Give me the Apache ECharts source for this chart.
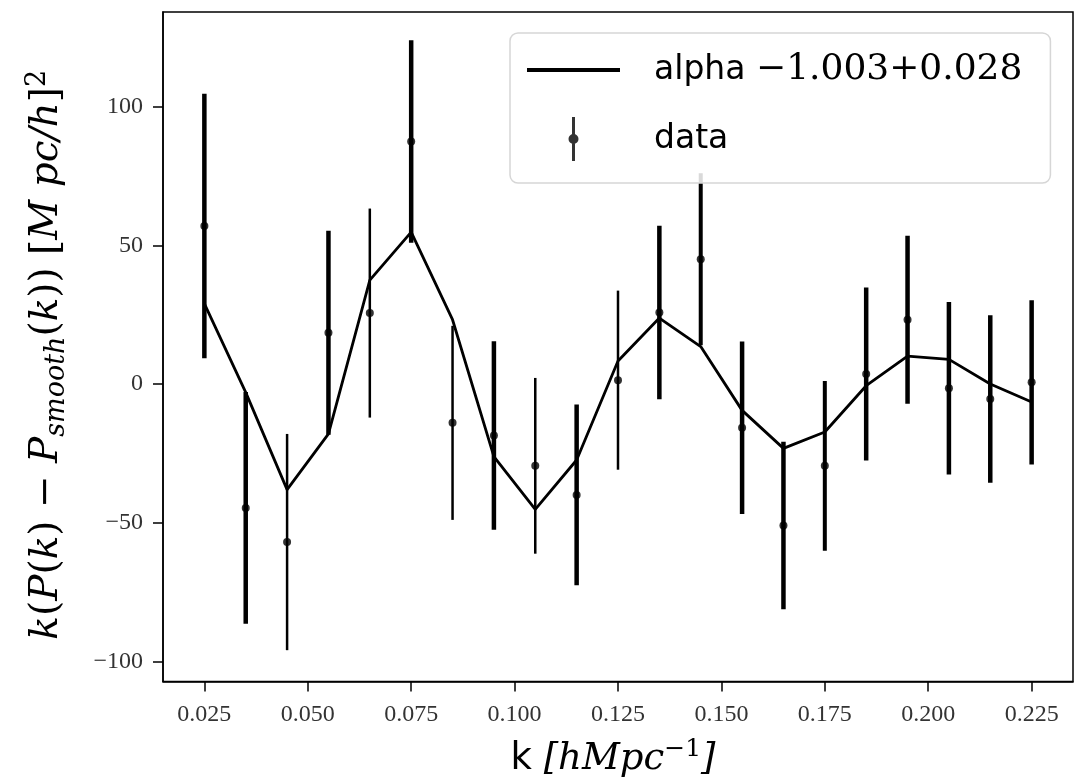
<!DOCTYPE html>
<html>
<head>
<meta charset="utf-8">
<script src="https://cdn.jsdelivr.net/npm/echarts@6/dist/echarts.min.js"></script>
<style>
  html, body { margin: 0; padding: 0; background: #fff; }
  #chart { width: 1083px; height: 783px; }
</style>
</head>
<body>
<div id="chart"></div>
<script>
// ---- data ----
const kValues = [0.025, 0.035, 0.045, 0.055, 0.065, 0.075, 0.085, 0.095, 0.105, 0.115,
                 0.125, 0.135, 0.145, 0.155, 0.165, 0.175, 0.185, 0.195, 0.205, 0.215, 0.225];
const dataValues = [57, -44.7, -57, 18.5, 25.6, 87.5, -14, -18.6, -29.5, -40,
                    1.4, 25.8, 45, -15.8, -51, -29.5, 3.6, 23.2, -1.5, -5.4, 0.6];
const dataErrors = [47.7, 41.8, 39, 36.8, 37.7, 36.5, 35, 34, 31.7, 32.6,
                    32.3, 31.3, 31, 31.1, 30.2, 30.6, 31.2, 30.3, 31.1, 30.2, 29.6];
const modelValues = [29, -3, -38.1, -18, 37.5, 54.8, 23.2, -26.2, -45.2, -27.4,
                     8.3, 23.8, 13.5, -9.5, -23.2, -17.3, -0.6, 10.1, 8.9, 0, -6.5];
const xTicks = [0.025, 0.05, 0.075, 0.1, 0.125, 0.15, 0.175, 0.2, 0.225];
const yTicks = [-100, -50, 0, 50, 100];
const modelLabel = 'alpha';
const modelLabelValue = '\u22121.003+0.028';
const dataLabel = 'data';

// ---- styling (not data) ----
const errorBarWidths = [4.5, 4.5, 2.5, 4.5, 2.5, 4.5, 2.5, 4.5, 2.5, 4.5,
                        2.5, 4.5, 4, 4.5, 4.5, 4, 4.5, 4.5, 4.5, 4.5, 4.5];
const serif = '"Liberation Serif", "DejaVu Serif", serif';
const mathSerif = '"DejaVu Serif", serif';

const chart = echarts.init(document.getElementById('chart'));

const corners = 'M0,0h0.01v0.01h-0.01z M93,44h-0.01v-0.01h0.01z ';
const lineIcon = 'path://' + corners + 'M0,20h93v4h-93z';
const dataIcon = 'path://' + corners +
                 'M45,0h3v44h-3z M41.5,22a5,5 0 1,1 10,0a5,5 0 1,1 -10,0z';

const option = {
  animation: false,
  backgroundColor: '#fff',
  grid: {
    left: 163, right: 10, top: 12, bottom: 96,
    show: true, borderColor: '#000', borderWidth: 1.5, backgroundColor: 'transparent'
  },
  xAxis: {
    type: 'value', min: 0.015, max: 0.235,
    axisLine: { show: true, onZero: false, lineStyle: { color: '#000', width: 1.5 } },
    splitLine: { show: false },
    axisTick: { show: true, length: 10, customValues: xTicks, lineStyle: { color: '#000', width: 1.5 } },
    axisLabel: {
      customValues: xTicks, margin: 21,
      formatter: v => v.toFixed(3),
      fontFamily: serif, fontSize: 24, color: '#333'
    },
    name: '{k|k }{i|[hMpc}{sup|\u22121}{i|]}',
    nameLocation: 'middle', nameGap: 55,
    nameTextStyle: {
      padding: [0, 10, 0, 0],
      rich: {
        k: { fontFamily: '"DejaVu Sans", sans-serif', fontSize: 37, color: '#000', lineHeight: 46 },
        i: { fontFamily: mathSerif, fontStyle: 'italic', fontSize: 37, color: '#000', lineHeight: 46 },
        sup: { fontFamily: mathSerif, fontSize: 25, color: '#000', verticalAlign: 'top', lineHeight: 22 }
      }
    }
  },
  yAxis: {
    type: 'value', min: -107.3, max: 134.2,
    axisLine: { show: true, onZero: false, lineStyle: { color: '#000', width: 1.5 } },
    splitLine: { show: false },
    axisTick: { show: true, length: 10, customValues: yTicks, lineStyle: { color: '#000', width: 1.5 } },
    axisLabel: {
      customValues: yTicks, margin: 20,
      formatter: v => (v < 0 ? '\u2212' + Math.abs(v) : String(v)),
      fontFamily: serif, fontSize: 24, color: '#333'
    },
    name: '{i|k}{u|(}{i|P}{u|(}{i|k}{u|) \u2212 }{i|P}{sub|smooth}{u|(}{i|k}{u|)) [}{i|M pc/h}{u|]}{sup|2}',
    nameLocation: 'middle', nameGap: 93, nameRotate: 90,
    nameTextStyle: {
      padding: [0, 16, 0, 0],
      rich: {
        i: { fontFamily: mathSerif, fontStyle: 'italic', fontSize: 39, color: '#000', lineHeight: 46 },
        u: { fontFamily: mathSerif, fontSize: 39, color: '#000', lineHeight: 46 },
        sub: { fontFamily: mathSerif, fontStyle: 'italic', fontSize: 27, color: '#000', verticalAlign: 'bottom', lineHeight: 28 },
        sup: { fontFamily: mathSerif, fontSize: 27, color: '#000', verticalAlign: 'top', lineHeight: 22 }
      }
    }
  },
  legend: {
    left: 510, top: 33, orient: 'vertical',
    itemWidth: 93, itemHeight: 44, itemGap: 25,
    padding: [15, 28, 22, 17],
    backgroundColor: 'rgba(255,255,255,0.85)',
    borderColor: '#d6d6d6', borderWidth: 1.5, borderRadius: 8,
    data: [
      { name: modelLabel, icon: lineIcon, itemStyle: { color: '#000' } },
      { name: dataLabel, icon: dataIcon, itemStyle: { color: '#000' } }
    ],
    formatter: name => name === modelLabel
      ? '{s|' + modelLabel + ' }{m|' + modelLabelValue + '}'
      : '{s|' + name + '}',
    textStyle: {
      rich: {
        s: { fontFamily: '"DejaVu Sans", sans-serif', fontSize: 33, color: '#000', padding: [0, 0, 0, 29] },
        m: { fontFamily: '"DejaVu Serif", serif', fontSize: 36, color: '#000' }
      }
    }
  },
  series: [
    {
      name: modelLabel, type: 'line',
      data: kValues.map((k, i) => [k, modelValues[i]]),
      symbol: 'none', lineStyle: { color: '#000', width: 2.8 }, itemStyle: { color: '#000' },
      z: 2
    },
    {
      name: 'errorbars', type: 'custom',
      data: kValues.map((k, i) => [k, dataValues[i] - dataErrors[i], dataValues[i] + dataErrors[i]]),
      encode: { x: 0, y: [1, 2] },
      renderItem: (params, api) => {
        const k = api.value(0);
        const p1 = api.coord([k, api.value(1)]);
        const p2 = api.coord([k, api.value(2)]);
        return {
          type: 'line',
          shape: { x1: p1[0], y1: p1[1], x2: p2[0], y2: p2[1] },
          style: { stroke: '#000', lineWidth: errorBarWidths[params.dataIndex] }
        };
      },
      z: 3
    },
    {
      name: dataLabel, type: 'scatter',
      data: kValues.map((k, i) => [k, dataValues[i]]),
      symbolSize: 8, itemStyle: { color: '#000' },
      z: 4
    }
  ]
};
chart.setOption(option);
</script>
</body>
</html>
